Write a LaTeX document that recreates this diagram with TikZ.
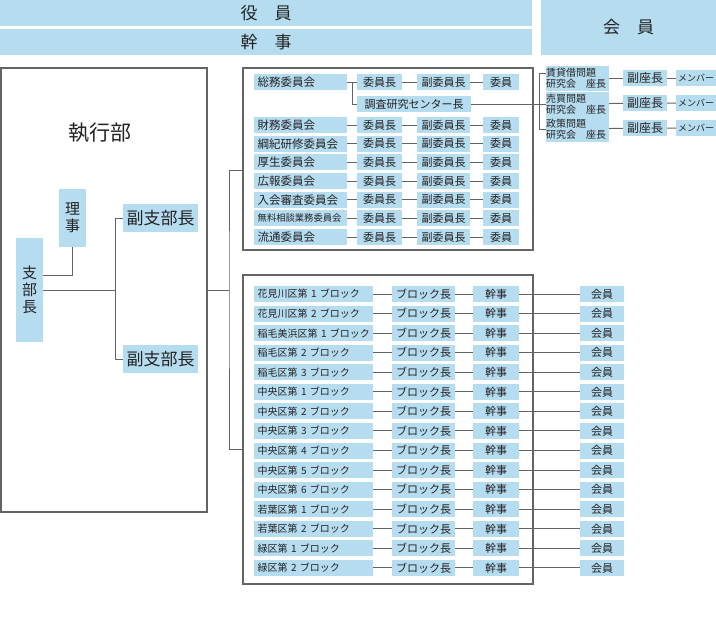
\documentclass[tikz,border=0pt]{standalone}
\usepackage{fontspec}
\setmainfont{Noto Sans CJK JP}
\usetikzlibrary{positioning}
\definecolor{cellblue}{RGB}{182,220,240}
\definecolor{linegray}{RGB}{100,100,100}
\definecolor{inkgray}{RGB}{35,35,35}
\newcommand{\jfs}[2]{\fontsize{#1}{#2}\selectfont}

\begin{document}
\begin{tikzpicture}[
      x=1pt, y=-1pt,
      every node/.style={text=inkgray, inner sep=0pt},
      cell/.style={fill=cellblue, minimum height=16pt, align=center,
                   font=\jfs{11}{11}},
      labelcell/.style={cell, anchor=west, text width=#1, align=left,
                        inner xsep=3.5pt},
      twoline/.style={cell, text width=63pt, align=left, minimum height=25pt,
                      font=\jfs{10}{11}},
      frame/.style={draw=linegray, line width=1.2pt},
      link/.style={draw=linegray, line width=1pt},
    ]
    \useasboundingbox (0,0) rectangle (716,633);

    % Cabecera
    \node[cell, minimum width=532pt, minimum height=26pt, font=\jfs{17}{17}]
      (yakuin) at (266,13) {役　員};
    \node[cell, minimum width=532pt, minimum height=26pt, font=\jfs{17}{17}]
      (kanji) at (266,42) {幹　事};
    \node[cell, minimum width=175pt, minimum height=55pt, font=\jfs{17}{17}]
      (kaiin) at (628.5,27.5) {会　員};

    % Marcos
    \node[frame, minimum width=206pt, minimum height=444pt] (exec) at (104,290) {};
    \node[frame, minimum width=290pt, minimum height=182pt] (iinkai) at (388,159) {};
    \node[frame, minimum width=290pt, minimum height=309pt] (blocks) at (388,429.5) {};

    % Ejecutivo
    \node[font=\jfs{21}{21}] (execlabel) at (100,133) {執行部};
    \node[cell, minimum width=27pt, minimum height=104pt, font=\jfs{15}{17}]
      (shibucho) at (29.5,290) {支\\部\\長};
    \node[cell, minimum width=27pt, minimum height=58pt, font=\jfs{15}{17}]
      (riji) at (72.5,218) {理\\事};
    \node[cell, minimum width=75pt, minimum height=28pt, font=\jfs{17}{17}]
      (fuku1) at (160.5,218) {副支部長};
    \node[cell, minimum width=75pt, minimum height=28pt, font=\jfs{17}{17}]
      (fuku2) at (160.5,359) {副支部長};
    \coordinate (hub) at (116,290);
    \coordinate (bus) at (229,290);

    \draw[link] (shibucho.east) ++(0,-15) -| (riji.south);
    \draw[link] (fuku1.west) -- ++(-7,0) |- (fuku2.west);
    \draw[link] (shibucho.east) -- (hub);
    \draw[link] (exec.east) -- (bus);
    \draw[link] (iinkai.west |- 0,170) -| (bus) |- (blocks.west |- 0,449);

    % Comité general + centro de investigación
    \node[labelcell=86pt, font=\jfs{11.5}{12}] (somu) at (254,82) {総務委員会};
    \node[cell, minimum width=45pt] (somuhead) at (379.5,82) {委員長};
    \node[cell, minimum width=53pt] (somuvice) at (443.5,82) {副委員長};
    \node[cell, minimum width=36pt] (somumem)  at (501,82)   {委員};
    \node[cell, minimum width=114pt] (research) at (414,104) {調査研究センター長};
    \draw[link] (somu) -- (somuhead) -- (somuvice) -- (somumem);
    \draw[link] (somu.east) ++(5,0) |- (research);

    % Grupos de estudio
    \node[twoline] (sg1) at (577.5,78)  {賃貸借問題\\研究会　座長};
    \node[twoline] (sg2) at (577.5,104) {売買問題\\研究会　座長};
    \node[twoline] (sg3) at (577.5,129) {政策問題\\研究会　座長};
    \foreach \i/\yy in {1/78, 2/103, 3/128} {
      \node[cell, minimum width=44pt, font=\jfs{12}{12}] (sgvice\i) at (645,\yy) {副座長};
      \node[cell, minimum width=40pt, font=\jfs{9}{9}] (sgmem\i) at (696,\yy) {メンバー};
      \draw[link] (sg\i) -- (sgvice\i) -- (sgmem\i);
    }
    \draw[link] ([yshift=5pt]sg1.west) -- ++(-6,0) |- (sg3.west);
    \draw[link] (research) -- (sg2);

    % Comités
    \foreach \lab/\fs [count=\i] in {財務委員会/11.5, 綱紀研修委員会/11.5,
        厚生委員会/11.5, 広報委員会/11.5, 入会審査委員会/11.5,
        無料相談業務委員会/9.3, 流通委員会/11.5} {
      \pgfmathsetmacro{\yy}{125+18.67*(\i-1)}
      \node[labelcell=86pt, font=\jfs{\fs}{12}] (com\i) at (254,\yy) {\lab};
      \node[cell, minimum width=45pt] (comhead\i) at (379.5,\yy) {委員長};
      \node[cell, minimum width=53pt] (comvice\i) at (443.5,\yy) {副委員長};
      \node[cell, minimum width=36pt] (commem\i)  at (501,\yy)   {委員};
      \draw[link] (com\i) -- (comhead\i) -- (comvice\i) -- (commem\i);
    }

    % Bloques
    \foreach \lab [count=\i from 0] in {花見川区第~1~ブロック, 花見川区第~2~ブロック,
        稲毛美浜区第~1~ブロック, 稲毛区第~2~ブロック, 稲毛区第~3~ブロック,
        中央区第~1~ブロック, 中央区第~2~ブロック, 中央区第~3~ブロック,
        中央区第~4~ブロック, 中央区第~5~ブロック, 中央区第~6~ブロック,
        若葉区第~1~ブロック, 若葉区第~2~ブロック, 緑区第~1~ブロック,
        緑区第~2~ブロック} {
      \pgfmathsetmacro{\yy}{294+19.57*\i}
      \node[labelcell=112pt, font=\jfs{10}{10}] (blk\i) at (254,\yy) {\lab};
      \node[cell, minimum width=63pt] (blkhead\i) at (423.5,\yy) {ブロック長};
      \node[cell, minimum width=46pt] (blksec\i)  at (496,\yy)   {幹事};
      \node[cell, minimum width=44pt] (blkmem\i)  at (602,\yy)   {会員};
      \draw[link] (blk\i) -- (blkhead\i) -- (blksec\i) -- (blkmem\i);
    }

  \end{tikzpicture}
\end{document}
